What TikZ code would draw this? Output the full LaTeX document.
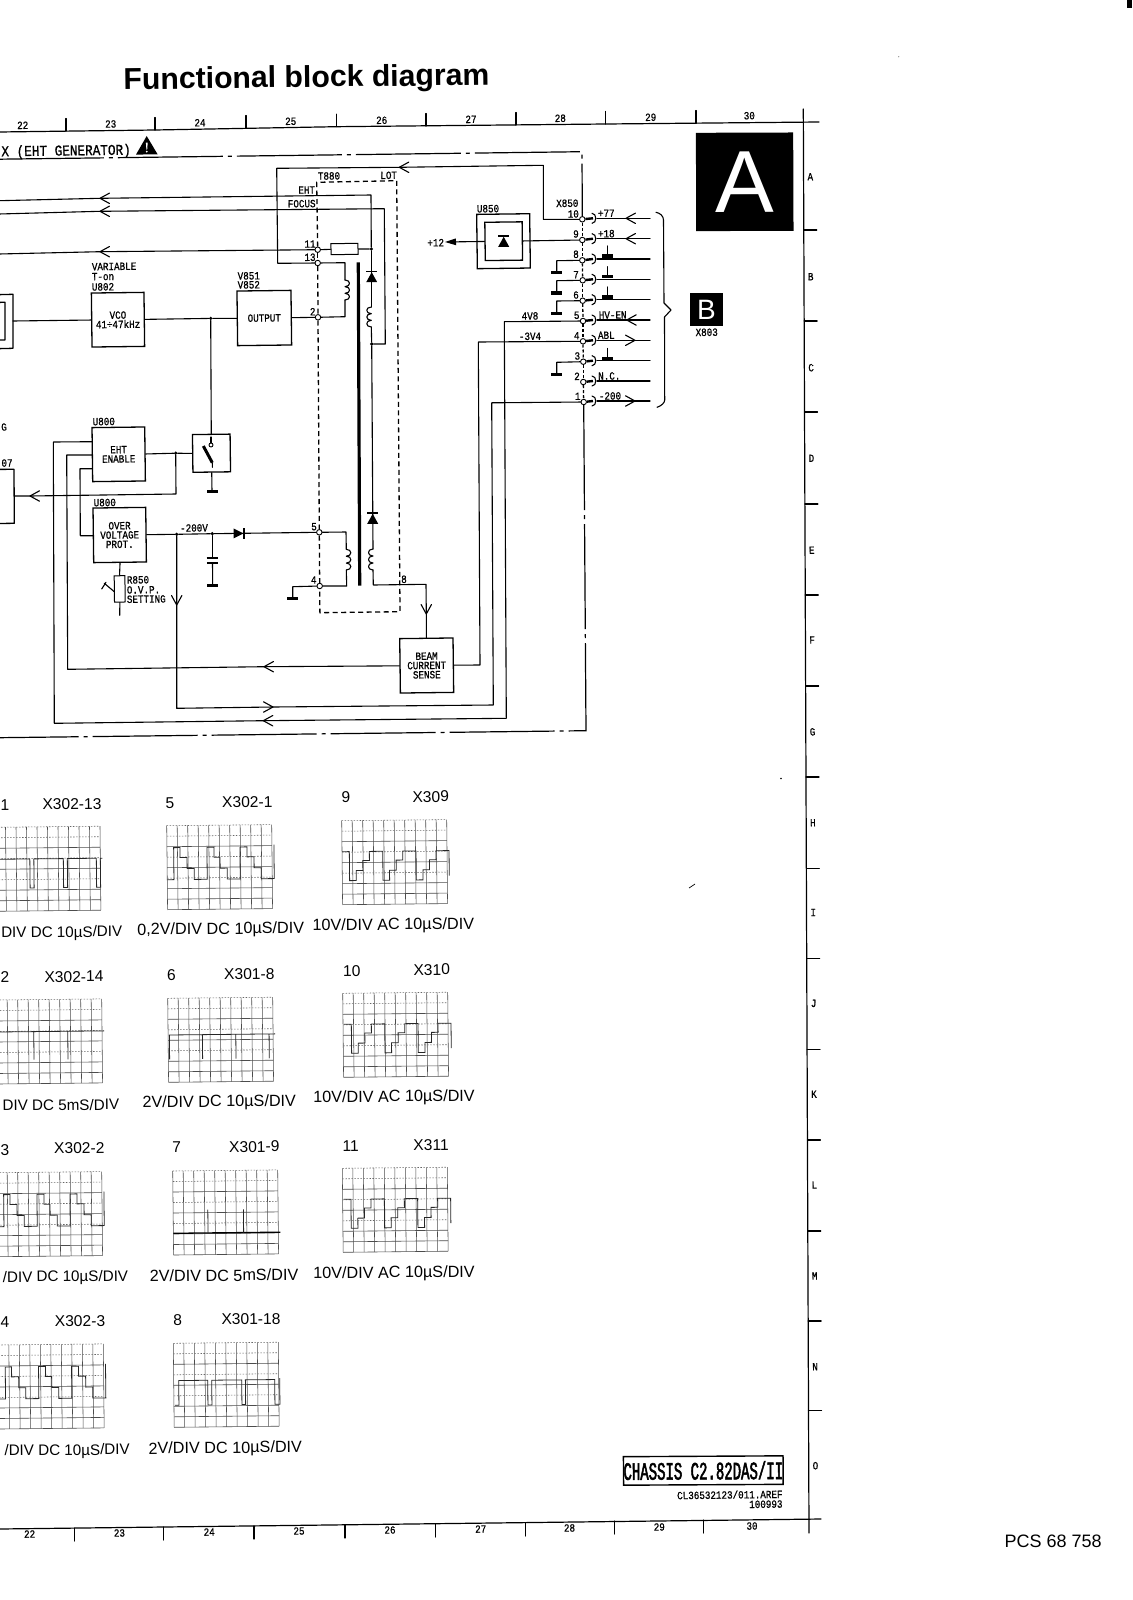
\documentclass[tikz,border=0pt]{standalone}
\usepackage{fontspec}
\setmainfont{Liberation Sans}
\newfontfamily\draft[FakeStretch=0.84,FakeBold=0.8]{Liberation Mono}
\newfontfamily\draftc[FakeStretch=0.56,FakeBold=2]{Liberation Mono}
\usetikzlibrary{arrows.meta}
\tikzset{
  wire/.style={line width=1.1pt,line cap=round,line join=round},
  hdr/.style={line width=1.2pt,dash pattern=on 105pt off 5pt on 4pt off 5pt},
  tdash/.style={line width=1.3pt,dash pattern=on 5pt off 3.5pt},
  coldash/.style={line width=1.3pt,dash pattern=on 3pt off 2pt},
  blk/.style={draw,line width=1.3pt,inner sep=0pt,align=center,rotate=0.7,font=\draft\fontsize{11}{9.3}\selectfont},
  lab/.style={inner sep=0pt,rotate=0.7,font=\draft\fontsize{11}{11}\selectfont},
  labl/.style={lab,anchor=west},
  hdrt/.style={inner sep=0pt,rotate=0.7,font=\draft\fontsize{15.1}{16}\selectfont},
  captxt/.style={inner sep=0pt,rotate=0.6,font=\fontsize{16.2}{17}\selectfont},
  captxe/.style={inner sep=0pt,rotate=0.6,anchor=east,font=\fontsize{15.2}{17}\selectfont},
  sct/.style={inner sep=0pt,rotate=0.6,font=\fontsize{15.6}{16}\selectfont},
  pinc/.style={circle,draw,fill=white,line width=0.9pt,inner sep=0pt,minimum size=5.5pt},
  jdot/.style={circle,fill=black,inner sep=0pt,minimum size=3.6pt},
  gridv/.style={line width=0.55pt,black!70},
  gridh/.style={line width=0.6pt,black!70},
  gridd/.style={line width=0.55pt,black!60,dash pattern=on 1.5pt off 1.5pt},
  wave/.style={line width=0.8pt,black!85,line join=miter},
  diodeup/.pic={\fill (-5.5,5.5)--(5.5,5.5)--(0,-4.5)--cycle; \draw[line width=1.4pt] (-5.5,-5.3)--(5.5,-5.3);},
  diodert/.pic={\fill (-5.5,-5)--(-5.5,5)--(4.5,0)--cycle; \draw[line width=1.8pt] (5.3,-5.3)--(5.3,5.3);},
  gndbar/.pic={\fill (-5.5,-1.6) rectangle (5.5,1.6);}
}
% open arrow head: tip at a named coordinate, direction in degrees
\newcommand\barb[2]{\draw[wire,shift={(#1)},rotate=#2] (-9.5,-5.2)--(0,0)--(-9.5,5.2);}
% three-bump winding between two heights; #5 = side (1 right, -1 left)
\newcommand\coil[5]{%
  \coordinate (#1t) at (#2,#3);\coordinate (#1b) at (#2,#4);
  \pgfmathsetmacro\hh{(#4-#3)/3}%
  \draw[wire] (#1t) .. controls +({#5*6},0) and +({#5*6},0) .. ++(0,\hh)
     .. controls +({#5*6},0) and +({#5*6},0) .. ++(0,\hh)
     .. controls +({#5*6},0) and +({#5*6},0) .. ++(0,\hh);}
% oscilloscope graticule, x, y, trace
\newcommand\scopegrid[3]{%
  \begin{scope}[shift={(#1,#2)},rotate=0.6]
    \foreach \i in {0,...,10} \draw[gridv] ({\i*10.5},0)--({\i*10.5},84);
    \foreach \j in {0,1,3,5} \draw[gridd] (0,{\j*10.5})--(105,{\j*10.5});
    \foreach \j in {2,4,6,7,8} \draw[gridh] (0,{\j*10.5})--(105,{\j*10.5});
    #3
  \end{scope}}
\newcommand\waveA{\draw[wave] (0,54)--(6.7,54)--(6.7,22)--(13,22)--(13,32)--(20,32)--(20,43)--(27,43)--(27,54)--(40,54)--(40,22)--(47,22)--(47,32)--(53,32)--(53,43)--(60,43)--(60,54)--(73,54)--(73,22)--(80,22)--(80,32)--(87,32)--(87,43)--(94,43)--(94,54)--(107,54)--(107,20);}
\newcommand\waveB{\draw[wave] (0,31)--(7.3,31)--(7.3,60)--(14,60)--(14,50)--(20.7,50)--(20.7,40)--(27.3,40)--(27.3,31)--(40.7,31)--(40.7,60)--(47.3,60)--(47.3,50)--(54,50)--(54,40)--(60.7,40)--(60.7,31)--(74,31)--(74,60)--(80.7,60)--(80.7,50)--(87.3,50)--(87.3,40)--(94,40)--(94,31)--(107,31)--(107,56);}
\newcommand\waveC{\draw[wave] (0,32)--(34.5,32)--(34.5,61)--(38.5,61)--(38.5,32)--(68,32)--(68,61)--(72,61)--(72,32)--(101,32)--(101,61)--(105,61)--(105,32)--(107,32);}
\newcommand\waveD{\draw[wave] (0,32)--(107,32) (36.7,32)--(36.7,60) (70.7,32)--(70.7,60);}
\newcommand\waveE{\draw[wave] (1.3,61)--(1.3,36.7)--(107,36.7) (34.3,36.7)--(34.3,61) (67.7,36.7)--(67.7,61) (101,36.7)--(101,61);}
\newcommand\waveF{\draw[line width=1.3pt,black] (0,62.3)--(107,62.3); \draw[wave] (34.7,62.3)--(34.7,39) (70.3,62.3)--(70.3,39);}
\newcommand\waveG{\draw[wave] (1,62)--(5,62)--(5,37.3)--(34,37.3)--(34,62)--(38,62)--(38,37.3)--(68,37.3)--(68,62)--(71.7,62)--(71.7,37.3)--(101,37.3)--(101,62)--(106,62)--(106,36);}
\begin{document}
\begin{tikzpicture}[x=1pt,y=-1pt]
\fill[white] (0,0) rectangle (1132,1600);
\clip (0,0) rectangle (1132,1600);
\useasboundingbox (0,0) rectangle (1132,1600);

% ---- title and page marks
\node[anchor=base west,inner sep=0pt,rotate=0.7,font=\bfseries\fontsize{30.2}{32}\selectfont] (title) at (123.5,89.5) {Functional block diagram};
\node[anchor=base west,inner sep=0pt,font=\fontsize{18}{19}\selectfont] (pcs) at (1004.4,1547) {PCS 68 758};
\fill (1126.7,0) rectangle (1132,8);
\draw[line width=0.7pt] (689,888)--(695,884);
\fill (781,778.5) circle (0.8pt);
\fill[black!50] (898.7,56.7) circle (0.6pt);

% ---- frame rulers
\draw[wire,line width=1.2pt] (-1,132)--(155,130)--(336,126.7)--(606,124)--(819,122);
\draw[wire,line width=1.2pt] (-1,1529)--(821,1519);
\draw[wire,line width=1.2pt] (803.3,109)--(809,1533);
\foreach \xx/\yy in {66/131,155/130,246/128,336.6/126.7,426/126,516/125,605.7/124,696/123}
  \draw[wire] (\xx,\yy)--(\xx,\yy-12.5);
\foreach \xx/\yy in {74.5/1528,163.3/1527,254/1526,345/1525,435.8/1524,525.7/1523,614.7/1521,703.3/1520}
  \draw[wire] (\xx,\yy)--(\xx,\yy+13);
\foreach \t/\xx/\yy in {22/22.7/125.3,23/110.7/124,24/200/122.7,25/290.7/121.3,26/381.7/120.3,27/471/119.3,28/560.3/118.3,29/650.7/117.3,30/749.3/115.7}
  \node[lab] (rt\t) at (\xx,\yy) {\t};
\foreach \t/\xx/\yy in {22/29.6/1534,23/119.4/1533,24/209.2/1532,25/299/1531,26/390/1530,27/480.7/1529,28/569.5/1528,29/659.3/1527,30/752/1526}
  \node[lab] (rb\t) at (\xx,\yy) {\t};
\foreach \yy in {230,321,412,504,595,686,777,868.6,958.4,1049.3,1140,1231,1321,1410.6}{
  \pgfmathsetmacro\xb{803.3+(\yy-109)*0.0040}
  \draw[wire] (\xb,\yy)--(\xb+13,\yy);}
\foreach \t/\yy in {A/176.7,B/276.7,C/367.7,D/458.3,E/550.2,F/640,G/731.8,H/822.7,I/912.5,J/1003.4,K/1094.2,L/1185,M/1275.9,N/1366.7,O/1465.7}{
  \pgfmathsetmacro\xb{810.3+(\yy-176)*0.0040}
  \node[lab] (rs\t) at (\xb,\yy) {\t};}

% ---- badges
\node[fill=black,text=white,inner sep=0pt,minimum width=97.3pt,minimum height=98.3pt,rotate=0.2,font=\fontsize{88}{88}\selectfont] (bigA) at (744.7,181.8) {\raisebox{-1pt}{A}};
\node[fill=black,text=white,inner sep=0pt,minimum size=33pt,font=\fontsize{28}{28}\selectfont] (bigB) at (706.5,309.5) {B};
\node[lab] (tX803) at (706.7,332.3) {X803};

% ---- blocks
\node[blk,minimum width=52.6pt,minimum height=54pt] (vco) at (118,319.7) {VCO\\41÷47kHz};
\node[blk,minimum width=54pt,minimum height=54.6pt] (outp) at (264.3,318) {OUTPUT};
\node[blk,minimum width=52.7pt,minimum height=54pt] (eht) at (118.7,454.3) {EHT\\ENABLE};
\node[blk,minimum width=52.7pt,minimum height=54.6pt] (ovp) at (119.7,535) {OVER\\VOLTAGE\\PROT.};
\node[blk,minimum width=53.3pt,minimum height=54.4pt] (beam) at (426.7,665.5) {BEAM\\CURRENT\\SENSE};
\node[blk,minimum width=37.6pt,minimum height=37.7pt] (sw) at (211.5,453.2) {};
\node[blk,minimum width=53pt,minimum height=54.3pt] (uo) at (503.5,241.2) {};
\node[blk,minimum width=37.3pt,minimum height=38.3pt] (ui) at (503.7,241.2) {};
\node[blk,minimum width=27pt,minimum height=11pt,line width=1pt] (res) at (344.5,249) {};
\node[blk,minimum width=10.7pt,minimum height=26.3pt,line width=1pt] (r850) at (119.7,588.9) {};
\draw[wire,line width=1.3pt] (-3,294.7)--(13,294.3)--(13,348.3)--(-3,348.7);
\draw[wire,line width=1.3pt] (-3,302.4)--(5,302.3)--(5,340)--(-3,340.1);
\draw[wire,line width=1.3pt] (-3,469.4)--(14,469.3)--(14.3,523.3)--(-3,523.5);

% ---- terminals of the transformer
\node[pinc] (p11) at (317.7,249.7) {};
\node[pinc] (p13) at (317.7,263) {};
\node[pinc] (p2) at (318,317.3) {};
\node[pinc] (p5) at (319.3,532.3) {};
\node[pinc] (p4) at (319.7,586) {};
\coordinate (tl) at (316.7,182.3);
\coordinate (tr) at (396.7,180.7);
\coordinate (bl) at (319.9,612.7);
\coordinate (br) at (400,611.7);
\draw[tdash] (p11)--(tl)--(tr)--(br)--(bl)--(p4);
\draw[tdash] (p11)--(p13);
\draw[tdash] (p13)--(p2);
\draw[tdash] (p2)--(p5);
\draw[tdash] (p5)--(p4);

% ---- X850 pins and connector to X803
\foreach \n/\xa/\ya/\yb in {10/582.3/219.3/218.3,9/582.3/240/238.7,8/582.3/260.3/259,7/582.7/280.3/279.3,6/582.7/300.7/299.7,5/583/321/320,4/583/341.3/340.3,3/583.3/361.7/360.7,2/583.3/382/381,1/583.7/402/401}{
  \node[pinc] (x\n) at (\xa,\ya) {};
  \coordinate (c\n) at (593,\yb);
  \coordinate (s\n) at (597,\yb);
  \coordinate (e\n) at (650,\yb);
  \draw[line width=2.4pt] (x\n)--(c\n);
  \draw[wire] ([shift={(-1,-5)}]c\n) .. controls ([shift={(4,-5)}]c\n) and ([shift={(4,5)}]c\n) .. ([shift={(-1,5)}]c\n);
  \draw[wire] (s\n)--(e\n);
}
\draw[coldash] (x10)--(x9);\draw[coldash] (x9)--(x8);\draw[coldash] (x8)--(x7);
\draw[coldash] (x7)--(x6);\draw[coldash] (x6)--(x5);\draw[coldash] (x5)--(x4);
\draw[coldash] (x4)--(x3);\draw[coldash] (x3)--(x2);\draw[coldash] (x2)--(x1);
\foreach \t/\xx/\yy in {10/573.3/214,9/576/234,8/576/254.3,7/576/274.7,6/576/295,5/576.7/315.3,4/576.7/335.7,3/577.3/356,2/577/376.3,1/577.7/396.3}
  \node[lab] (nx\t) at (\xx,\yy) {\t};
% open arrows on the connector
\coordinate (a10) at (626,218.3);\barb{a10}{180}
\coordinate (a9) at (626,238.7);\barb{a9}{180}
\coordinate (a5) at (626.7,320);\barb{a5}{180}
\coordinate (a4) at (635,340.3);\barb{a4}{0}
\coordinate (a1) at (635,401);\barb{a1}{0}
% grounds
\foreach \n/\yt/\ybar in {8/246/256,7/266.7/276.7,6/287/297,3/348.3/358.3}{
  \coordinate (gt\n) at (607.7,\yt);
  \coordinate (gb\n) at (607.7,\ybar);
  \draw[wire] (gt\n)--(gb\n);
  \pic at (gb\n) {gndbar};
}
\foreach \n/\yy/\ybar in {8/260.7/272.7,7/280.7/293,6/301/313.3,3/362.3/374.3}{
  \coordinate (hk\n) at (556.7,\yy);
  \coordinate (hb\n) at (556.7,\ybar);
  \draw[wire] (x\n)--(hk\n)--(hb\n);
  \pic at (hb\n) {gndbar};
}
% brace
\coordinate (br0) at (656,212.3);
\draw[wire] (br0) .. controls (660,213) and (663.5,216) .. (663.5,220) -- (664,303) -- (671,310) -- (664.5,317) -- (664.7,400) .. controls (664.7,403) and (661,406) .. (657,407.3);
% connector labels
\node[lab] (tX850) at (567.3,203.3) {X850};
\node[lab] (t77) at (606.3,213.3) {+77};
\node[lab] (t18) at (606.3,233.7) {+18};
\node[lab] (thv) at (612.7,315) {HV-EN};
\node[lab] (tabl) at (606.3,335.3) {ABL};
\node[lab] (tnc) at (609.3,376) {N.C.};
\node[lab] (t200) at (610,396) {-200};
\node[lab] (t4v8) at (530,316) {4V8};
\node[lab] (t3v4) at (530,336.3) {-3V4};
\node[lab] (tU850) at (488,208.7) {U850};
\node[lab] (t12) at (435.7,242.7) {+12};
\node[lab] (tT880) at (329,176) {T880};
\node[lab] (tLOT) at (388.7,175.3) {LOT};
\node[lab] (tEHT) at (306.7,190) {EHT};
\node[lab] (tFOCUS) at (301.7,203.7) {FOCUS};
\node[lab] (n11) at (310,244) {11};
\node[lab] (n13) at (310,257.3) {13};
\node[lab] (n2) at (312.7,311.7) {2};
\node[lab] (n5) at (314,526.7) {5};
\node[lab] (n4) at (313.7,580) {4};
\node[lab] (n8) at (404,579.3) {8};
\node[labl] (tvar) at (91.7,266.7) {VARIABLE};
\node[labl] (tton) at (91.7,276.7) {T-on};
\node[labl] (tU802) at (91.7,287) {U802};
\node[labl] (tV851) at (237.5,276) {V851};
\node[labl] (tV852) at (237.5,285) {V852};
\node[labl] (tU800a) at (92.5,421.7) {U800};
\node[labl] (tU800b) at (93.5,502.7) {U800};
\node[lab] (t200v) at (194,528) {-200V};
\node[labl] (tr1) at (126.7,580) {R850};
\node[labl] (tr2) at (126.7,590) {O.V.P.};
\node[labl] (tr3) at (126.7,599.3) {SETTING};
\node[lab] (t07) at (7,463) {07};
\node[lab] (tG) at (4,427) {G};
\node[hdrt,anchor=east] (thead) at (131,150.8) {X (EHT GENERATOR)};
% warning triangle
\fill (146.7,136)--(157.6,154.3)--(136,154.6)--cycle;
\fill[white] (145.9,142.5)--(147.7,142.5)--(147.2,149.5)--(146.4,149.5)--cycle;
\fill[white] (146.8,151.6) circle (1pt);

% ---- header and footer dash-dot boundary
\coordinate (hs) at (-1,159.2);
\coordinate (hc) at (582,151.7);
\coordinate (fc) at (586,730.7);
\coordinate (fe) at (-1,737.7);
\draw[hdr] (hs)--(hc)--(x10);
\draw[hdr] (x1)--(fc)--(fe);

% ---- junctions and bends
\coordinate (tipE) at (100,198.3);
\coordinate (tipF) at (100,211.3);
\coordinate (tip3) at (100,251.7);
\coordinate (l1) at (-1,200.7);
\coordinate (l2) at (-1,214);
\coordinate (l3) at (-1,254);
\coordinate (eC) at (371,195);
\coordinate (fC) at (384.3,208.7);
\coordinate (fD) at (385.3,344);
\node[jdot] (j2) at (371.3,249) {};
\node[jdot] (j3) at (371.7,344) {};
\draw[wire] (l1)--(tipE)--(eC)--(j2);
\draw[wire] (l2)--(tipF)--(fC)--(fD)--(j3);
\draw[wire] (l3)--(tip3)--(p11);
\draw[wire] (p11)--(res);
\draw[wire] (res)--(j2);
\barb{tipE}{180}\barb{tipF}{180}\barb{tip3}{180}
% HV winding
\coil{cu}{371.3}{307}{327}{-1}
\coil{cd}{373}{549}{570}{-1}
\coordinate (h8) at (373.3,585);
\coordinate (bc) at (426,584.3);
\coordinate (tipBm) at (426.3,614);
\draw[wire] (j2)--(cut);
\draw[wire] (cub)--(j3);
\draw[wire] (j3)--(cdt);
\draw[wire] (cdb)--(h8)--(bc)--(tipBm)--(beam.north);
\barb{tipBm}{-90}
\pic at (371.7,276.7) {diodeup};
\pic at (372.7,518.3) {diodeup};
% primary windings and core
\coil{wa}{345}{280}{300}{1}
\coil{wb}{346.3}{549.3}{570}{1}
\coordinate (w13) at (345,262.7);
\coordinate (w2) at (345,316.7);
\coordinate (w5) at (346,532);
\coordinate (w4) at (346.7,586);
\draw[wire] (p13)--(w13)--(wat);
\draw[wire] (wab)--(w2)--(p2);
\draw[wire] (p5)--(w5)--(wbt);
\draw[wire] (wbb)--(w4)--(p4);
\coordinate (core1) at (358.3,262.3);
\coordinate (core2) at (359.7,585.7);
\draw[line width=3.2pt] (core1)--(core2);
% pin 4 ground
\coordinate (g4a) at (292.7,586.7);
\coordinate (g4b) at (292.7,598.3);
\draw[wire] (p4)--(g4a)--(g4b);
\pic at (g4b) {gndbar};
% top feedback loop
\coordinate (q1) at (543.3,219.3);
\coordinate (q2) at (543.3,165.3);
\coordinate (tipT) at (399.3,167.3);
\coordinate (q3) at (276.7,168.3);
\coordinate (q4) at (277.7,263.3);
\draw[wire] (x10)--(q1)--(q2)--(tipT)--(q3)--(q4)--(p13);
\barb{tipT}{180}
% drive chain
\coordinate (lbE) at (13,321);
\node[jdot] (j1) at (210.7,318.4) {};
\draw[wire] (lbE)--(vco.west);
\draw[wire] (vco.east)--(j1)--(outp.west);
\draw[wire] (outp.east)--(p2);
\draw[wire] (j1)--(sw.north);
% U850
\coordinate (t12a) at (445,242);
\draw[wire] (ui.east)--(x9);
\draw[wire,-{Triangle[length=11pt,width=6.5pt]}] (ui.west)--(t12a);
\pic at (503.7,241.3) {diodeup};
% EHT enable
\node[jdot] (j6) at (175.7,453.2) {};
\coordinate (g1) at (176,494);
\coordinate (tipG) at (30,496);
\coordinate (lE) at (14.3,496);
\draw[wire] (eht.east)--(j6)--(sw.west);
\draw[wire] (j6)--(g1)--(tipG)--(lE);
\barb{tipG}{180}
\coordinate (g3) at (212,491.7);
\draw[wire] (sw.south)--(g3);
\pic at (g3) {gndbar};
% switch
\coordinate (swa) at (203.3,446);
\coordinate (swb) at (212.3,462.7);
\draw[line width=3pt] (swa)--(swb);
\draw[wire] (swb)--(212.4,467.3);
\draw[wire] (211,437)--(211,443);
\draw[line width=0.9pt,fill=white] (211,445) circle (2pt);
% -200V rail
\node[jdot] (j5) at (176.7,534.3) {};
\node[jdot] (j7) at (212.3,533.7) {};
\coordinate (tipD) at (176.7,605);
\coordinate (d3) at (176.7,708.3);
\coordinate (tipM) at (273,707);
\coordinate (d2) at (493.3,705);
\coordinate (d1) at (491.7,402.8);
\draw[wire] (ovp.east)--(j5)--(j7)--(p5);
\draw[wire] (j5)--(tipD)--(d3)--(tipM)--(d2)--(d1)--(x1);
\barb{tipD}{-90}\barb{tipM}{0}
\pic at (239,533.4) {diodert};
% capacitor
\coordinate (cp1) at (212.3,557.7);
\coordinate (cp2) at (212.5,562.7);
\coordinate (g2) at (212.7,585.7);
\draw[wire] (j7)--(cp1);
\draw[wire] (cp2)--(g2);
\draw[line width=2pt] (206.7,557.7)--(217.9,557.7);
\draw[line width=2pt] (206.9,562.7)--(218.1,562.7);
\pic at (g2) {gndbar};
% R850
\coordinate (r2) at (119.7,615.3);
\draw[wire] (ovp.south)--(r850.north);
\draw[wire] (r850.south)--(r2);
\draw[wire] (104.3,583.3)--(114.3,591.7);
\draw[wire] (101.7,589)--(106,582.3);
% OVP to EHT
\coordinate (ovL) at (93.3,535.7);
\coordinate (f1) at (80.3,535.7);
\coordinate (f2) at (80,468.7);
\coordinate (eh3) at (92.3,468.7);
\draw[wire] (ovL)--(f1)--(f2)--(eh3);
% beam current sense
\coordinate (tipB) at (264,666.7);
\coordinate (e1) at (67.7,669.3);
\coordinate (e2) at (66.7,455);
\coordinate (eh2) at (92.3,455);
\draw[wire] (beam.west)--(tipB)--(e1)--(e2)--(eh2);
\barb{tipB}{180}
\coordinate (c1b) at (478.3,342);
\coordinate (c2b) at (480,665);
\draw[wire] (x4)--(c1b)--(c2b)--(beam.east);
% HV enable
\coordinate (b1) at (504.3,321.7);
\coordinate (b2) at (506.3,718.3);
\coordinate (tipR) at (263.3,720.7);
\coordinate (b3) at (54.3,723.3);
\coordinate (b4) at (53.3,442);
\coordinate (eh1) at (92.3,441.7);
\draw[wire] (x5)--(b1)--(b2)--(tipR)--(b3)--(b4)--(eh1);
\barb{tipR}{180}

% ---- oscilloscope pictures
\scopegrid{-5}{827.3}{\waveC}
\scopegrid{166.7}{825.7}{\waveA}
\scopegrid{341.7}{820.7}{\waveB}
\scopegrid{-3.3}{1000}{\waveD}
\scopegrid{167.7}{998.3}{\waveE}
\scopegrid{342.7}{993.3}{\begin{scope}[xshift=1pt]\waveB\end{scope}}
\scopegrid{-3.3}{1172.7}{\waveA}
\scopegrid{172.7}{1171}{\waveF}
\scopegrid{342.3}{1168.3}{\begin{scope}[xshift=1pt]\waveB\end{scope}}
\scopegrid{-1.7}{1345}{\waveA}
\scopegrid{173.3}{1343.3}{\waveG}

\node[sct] (s1n) at (5,805) {1};
\node[sct] (s1x) at (72,804.3) {X302-13};
\node[captxe] (s1c) at (122.5,932.7) {DIV DC 10µS/DIV};
\node[sct] (s5n) at (170,802.7) {5};
\node[sct] (s5x) at (247.3,802) {X302-1};
\node[captxt] (s5c) at (220.7,930) {0,2V/DIV DC 10µS/DIV};
\node[sct] (s9n) at (346,797.3) {9};
\node[sct] (s9x) at (430.7,796.7) {X309};
\node[captxt] (s9c) at (393.3,925.7) {10V/DIV AC 10µS/DIV};
\node[sct] (s2n) at (5,976.7) {2};
\node[sct] (s2x) at (74,976.7) {X302-14};
\node[captxe] (s2c) at (119.3,1104.3) {DIV DC 5mS/DIV};
\node[sct] (s6n) at (171.3,975) {6};
\node[sct] (s6x) at (249.3,974) {X301-8};
\node[captxt] (s6c) at (219.3,1102.7) {2V/DIV DC 10µS/DIV};
\node[sct] (s10n) at (351.7,970.7) {10};
\node[sct] (s10x) at (431.7,969.7) {X310};
\node[captxt] (s10c) at (394,1097.7) {10V/DIV AC 10µS/DIV};
\node[sct] (s3n) at (5,1150) {3};
\node[sct] (s3x) at (79.3,1148.3) {X302-2};
\node[captxe] (s3c) at (128.3,1277) {/DIV DC 10µS/DIV};
\node[sct] (s7n) at (176.7,1147.3) {7};
\node[sct] (s7x) at (254.3,1146.7) {X301-9};
\node[captxt] (s7c) at (224,1275.3) {2V/DIV DC 5mS/DIV};
\node[sct] (s11n) at (350.7,1145.7) {11};
\node[sct] (s11x) at (431,1145) {X311};
\node[captxt] (s11c) at (394,1273.7) {10V/DIV AC 10µS/DIV};
\node[sct] (s4n) at (5,1321.7) {4};
\node[sct] (s4x) at (80,1321) {X302-3};
\node[captxe] (s4c) at (130,1450.7) {/DIV DC 10µS/DIV};
\node[sct] (s8n) at (177.7,1320) {8};
\node[sct] (s8x) at (251,1319.3) {X301-18};
\node[captxt] (s8c) at (225.3,1449) {2V/DIV DC 10µS/DIV};

% ---- title block
\node[draw,line width=1.4pt,inner sep=0pt,minimum width=158.7pt,minimum height=28.5pt,rotate=0.3,font=\draftc\fontsize{25}{25}\selectfont] (chassis) at (703.3,1470.5) {CHASSIS C2.82DAS/II};
\node[lab,anchor=east] (tcl) at (782.7,1494) {CL36532123/011.AREF};
\node[lab,anchor=east] (tdate) at (782.7,1504) {100993};
\end{tikzpicture}
\end{document}
